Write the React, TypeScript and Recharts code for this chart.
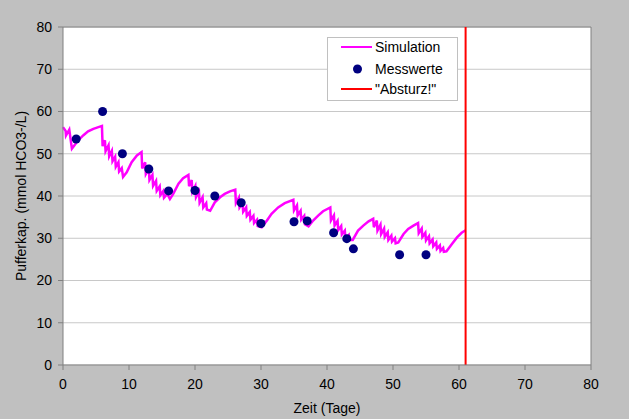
import {
  CartesianGrid,
  ComposedChart,
  Line,
  ReferenceLine,
  Scatter,
  XAxis,
  YAxis,
} from "recharts";

// simulated buffer capacity [day, mmol HCO3-/L]
const simulation: [number, number][] = [
  [0, 56.3], [0.4, 55.4], [0.45, 54.3], [0.95, 55.7], [1.35, 51.2],
  [1.6, 51.7], [2.3, 53.2], [3.1, 54.4], [3.8, 55.3], [4.6, 55.9],
  [5.9, 56.6], [6.0, 51.8], [6.35, 53.2], [6.45, 50.6], [6.9, 52.0],
  [7.0, 49.4], [7.4, 50.7], [7.5, 48.2], [7.9, 49.3], [8.0, 46.9],
  [8.4, 48.0], [8.5, 45.8], [8.9, 46.6], [9.1, 44.5], [9.65, 45.6],
  [10.4, 48.0], [11.2, 49.6], [11.9, 50.4], [12.0, 46.5], [12.45, 48.0],
  [12.55, 45.2], [13.0, 46.5], [13.1, 43.8], [13.55, 45.0], [13.65, 42.4],
  [14.1, 43.6], [14.2, 41.2], [14.65, 42.3], [14.75, 40.2], [15.2, 41.2],
  [15.3, 39.6], [15.8, 40.5], [16.2, 39.3], [16.7, 40.5], [17.5, 42.9],
  [18.2, 44.2], [19.0, 45.0], [19.1, 42.3], [19.5, 43.8], [19.6, 41.0],
  [20.05, 42.4], [20.15, 39.7], [20.6, 41.0], [20.7, 38.4], [21.15, 39.7],
  [21.25, 37.3], [21.7, 38.3], [21.8, 36.8], [22.3, 36.5], [23.0, 38.5],
  [23.8, 39.7], [24.5, 40.5], [25.3, 41.1], [26.1, 41.5], [26.2, 38.3],
  [26.65, 39.6], [26.75, 37.3], [27.2, 38.4], [27.3, 36.3], [27.75, 37.3],
  [27.85, 35.3], [28.3, 36.2], [28.4, 34.4], [28.85, 35.3], [28.95, 33.6],
  [29.4, 34.4], [29.5, 32.9], [30.1, 32.6], [30.9, 34.2], [31.6, 35.8],
  [32.6, 37.3], [33.6, 38.3], [34.9, 39.1], [35.0, 36.6], [35.45, 37.8],
  [35.55, 35.4], [36.0, 36.5], [36.1, 34.4], [36.55, 35.3], [36.65, 33.3],
  [37.2, 32.8], [37.9, 34.2], [38.7, 35.4], [39.4, 36.4], [40.5, 37.3],
  [40.6, 34.2], [41.05, 35.4], [41.15, 33.0], [41.6, 34.1], [41.7, 31.9],
  [42.15, 32.9], [42.25, 30.9], [42.7, 31.8], [42.8, 30.0], [43.3, 30.8],
  [43.4, 29.6], [43.9, 29.6], [44.7, 31.8], [45.5, 33.0], [46.3, 34.0],
  [47.0, 34.6], [47.1, 32.6], [47.55, 34.2], [47.65, 31.8], [48.1, 33.2],
  [48.2, 31.0], [48.65, 32.3], [48.75, 30.3], [49.2, 31.4], [49.3, 29.6],
  [49.75, 30.6], [49.85, 29.2], [50.3, 30.0], [50.4, 28.8], [50.8, 29.0],
  [51.6, 31.0], [52.3, 32.2], [53.1, 33.0], [53.8, 33.6], [53.9, 31.2],
  [54.35, 32.3], [54.45, 30.3], [54.9, 31.3], [55.0, 29.5], [55.45, 30.5],
  [55.55, 28.8], [56.0, 29.7], [56.1, 28.1], [56.55, 29.0], [56.65, 27.5],
  [57.1, 28.3], [57.2, 27.0], [57.6, 27.7], [57.7, 26.8], [58.1, 26.9],
  [58.9, 28.6], [59.7, 30.2], [60.4, 31.3], [61.0, 31.9],
];

// measured values [day, mmol HCO3-/L]
const messwerte: [number, number][] = [
  [2, 53.5], [6, 60], [9, 50], [13, 46.4], [16, 41.2], [20, 41.3],
  [23, 40], [27, 38.4], [30, 33.5], [35, 33.9], [37, 34.1], [41, 31.3],
  [43, 29.9], [44, 27.5], [51, 26.1], [55, 26.1],
];

const absturzTag = 61;

const xTicks = [0, 10, 20, 30, 40, 50, 60, 70, 80];
const yTicks = [0, 10, 20, 30, 40, 50, 60, 70, 80];

const simData = simulation.map(([x, y]) => ({ x, y }));
const messData = messwerte.map(([x, y]) => ({ x, y }));

const font = "'Liberation Sans', Arial, sans-serif";
const tick = { fill: "#000", fontSize: 14, fontFamily: font } as const;
const axisGray = "#808080";

function Dot(props: any) {
  return <circle cx={props.cx} cy={props.cy} r={4.5} fill="#000080" />;
}

function LegendBox() {
  return (
    <svg
      width={132}
      height={65}
      style={{ position: "absolute", left: 327, top: 37 }}
    >
      <rect x={0.5} y={0.5} width={130} height={63} fill="#fff" stroke="#c0c0c0" />
      <line x1={14} y1={10} x2={45} y2={10} stroke="#ff00ff" strokeWidth={2} />
      <circle cx={30.5} cy={32} r={4.5} fill="#000080" />
      <line x1={14} y1={52} x2={45} y2={52} stroke="#ff0000" strokeWidth={2} />
      <g fontSize={14} fontFamily={font} fill="#000">
        <text x={48} y={15}>Simulation</text>
        <text x={48} y={37}>Messwerte</text>
        <text x={48} y={57}>"Absturz!"</text>
      </g>
    </svg>
  );
}

export default function App() {
  return (
    <div
      style={{
        position: "relative",
        width: 629,
        height: 419,
        background: "#c0c0c0",
        fontFamily: font,
      }}
    >
      <style>{"body{margin:0}"}</style>
      <ComposedChart
        width={629}
        height={419}
        margin={{ top: 27, right: 38, bottom: 0, left: 0 }}
      >
        <CartesianGrid
          vertical={false}
          stroke="#c8c8c8"
          fill="#fff"
          fillOpacity={1}
        />
        <XAxis
          dataKey="x"
          type="number"
          domain={[0, 80]}
          ticks={xTicks}
          height={54}
          tick={tick}
          tickSize={5}
          tickMargin={9}
          stroke={axisGray}
          label={{
            value: "Zeit (Tage)",
            position: "insideBottom",
            offset: 6,
            fill: "#000",
            fontSize: 14,
          }}
        />
        <YAxis
          type="number"
          domain={[0, 80]}
          ticks={yTicks}
          width={63}
          tick={tick}
          tickSize={5}
          tickMargin={6}
          stroke={axisGray}
          label={{
            value: "Pufferkap. (mmol HCO3-/L)",
            angle: -90,
            position: "insideLeft",
            offset: 21,
            fill: "#000",
            fontSize: 14,
            style: { textAnchor: "middle" },
          }}
        />
        <ReferenceLine y={80} stroke={axisGray} />
        <ReferenceLine x={80} stroke={axisGray} />
        <Line
          data={simData}
          dataKey="y"
          type="linear"
          stroke="#ff00ff"
          strokeWidth={2.5}
          dot={false}
          isAnimationActive={false}
        />
        <Scatter
          data={messData}
          dataKey="y"
          shape={Dot}
          isAnimationActive={false}
        />
        <ReferenceLine x={absturzTag} stroke="#ff0000" strokeWidth={2} />
      </ComposedChart>
      <LegendBox />
    </div>
  );
}
